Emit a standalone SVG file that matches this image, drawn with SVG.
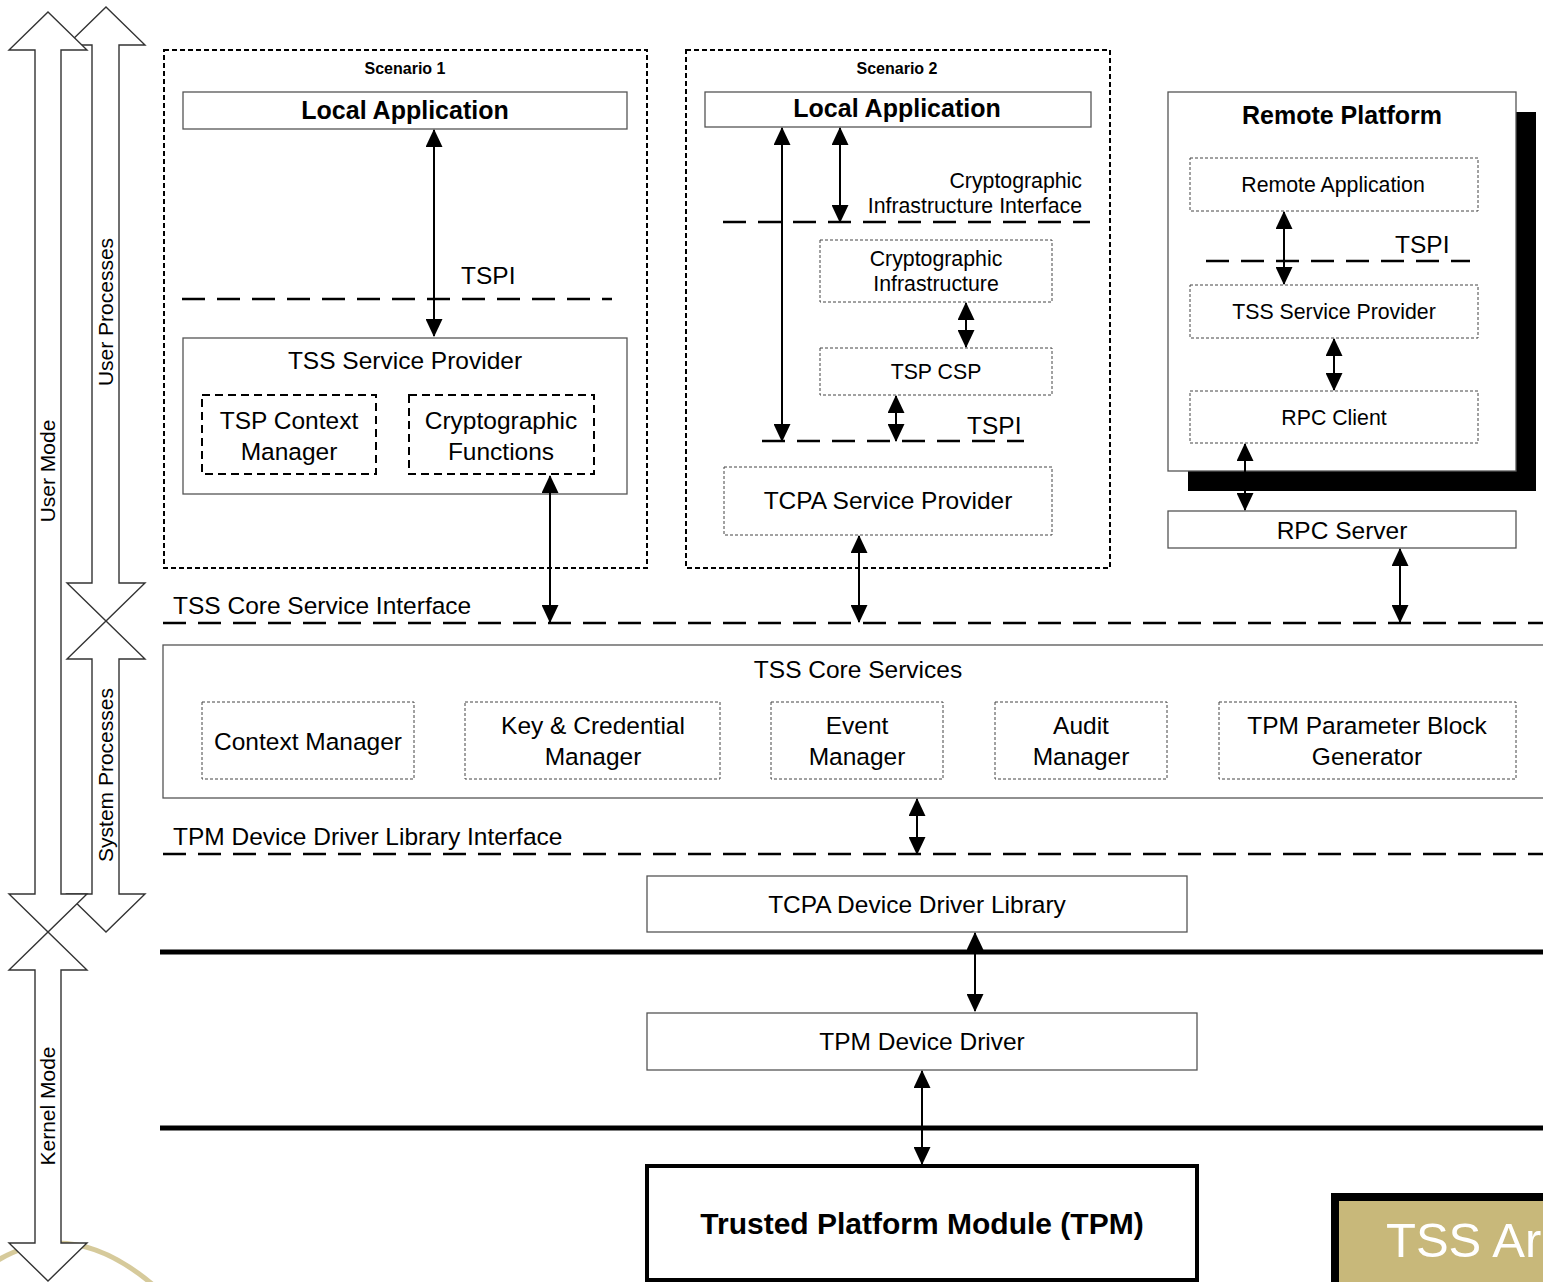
<svg xmlns="http://www.w3.org/2000/svg" width="1543" height="1282" viewBox="0 0 1543 1282">
<style>
text{font-family:"Liberation Sans",Arial,sans-serif;fill:#000}
.t24{font-size:24.5px}
.t21{font-size:21.3px}
.b25{font-size:25px;font-weight:bold}
.b16{font-size:16px;font-weight:bold}
.m{text-anchor:middle}
.solid{fill:#fff;stroke:#555;stroke-width:1.3}
.dot{fill:#fff;stroke:#444;stroke-width:1;stroke-dasharray:3 2}
.scen{fill:none;stroke:#000;stroke-width:2;stroke-dasharray:5 3}
.dash{fill:none;stroke:#000;stroke-width:2;stroke-dasharray:8 5}
.iface{stroke:#000;stroke-width:2.5;stroke-dasharray:23 12;fill:none}
.thick{stroke:#000;stroke-width:5}
.big{fill:#fff;stroke:#333;stroke-width:1.4}
.conn line{stroke:#000;stroke-width:2;marker-start:url(#ah);marker-end:url(#ah)}
.vt{font-size:21px}
</style>
<defs>
<marker id="ah" viewBox="0 0 18 17" refX="17" refY="8.5" markerWidth="18" markerHeight="17" markerUnits="userSpaceOnUse" orient="auto-start-reverse">
<path d="M0,0 L18,8.5 L0,17 z" fill="#000"/>
</marker>
</defs>
<rect width="1543" height="1282" fill="#fff"/>

<!-- decorative gold arc -->
<path d="M-5 1262 Q 70 1215 152 1284" fill="none" stroke="#C8B87A" stroke-width="5" opacity="0.75"/>

<!-- mode arrows -->
<g id="mode-arrows">
<polygon class="big" points="106,7 145,45 119,45 119,583 145,583 106,621 67,583 92,583 92,45 67,45"/>
<polygon class="big" points="106,621 145,659 119,659 119,894 145,894 106,932 67,894 92,894 92,659 67,659"/>
<polygon class="big" points="48,12 87,50 61,50 61,894 87,894 48,932 9,894 35,894 35,50 9,50"/>
<polygon class="big" points="48,932 87,970 61,970 61,1243 87,1243 48,1281 9,1243 35,1243 35,970 9,970"/>
<text class="vt m" transform="translate(55,471) rotate(-90)">User Mode</text>
<text class="vt m" transform="translate(113,312) rotate(-90)">User Processes</text>
<text class="vt m" transform="translate(113,775) rotate(-90)">System Processes</text>
<text class="vt m" transform="translate(55,1106) rotate(-90)">Kernel Mode</text>
</g>

<!-- Scenario 1 -->
<g id="scenario1">
<rect class="scen" x="164" y="50" width="483" height="518"/>
<text class="b16 m" x="405" y="74">Scenario 1</text>
</g>
<g id="s1-local-app">
<rect class="solid" x="183" y="92" width="444" height="37"/>
<text class="b25 m" x="405" y="119">Local Application</text>
</g>
<g id="s1-tspi">
<line class="iface" x1="182" y1="299" x2="612" y2="299"/>
<text class="t24" x="461" y="284">TSPI</text>
</g>
<g id="s1-tss-sp">
<rect class="solid" x="183" y="338" width="444" height="156"/>
<text class="t24 m" x="405" y="369">TSS Service Provider</text>
</g>
<g id="s1-tsp-context">
<rect class="dash" x="202" y="395" width="174" height="79"/>
<text class="t24 m" x="289" y="429">TSP Context</text>
<text class="t24 m" x="289" y="460">Manager</text>
</g>
<g id="s1-crypto-func">
<rect class="dash" x="409" y="395" width="185" height="79"/>
<text class="t24 m" x="501" y="429">Cryptographic</text>
<text class="t24 m" x="501" y="460">Functions</text>
</g>

<!-- Scenario 2 -->
<g id="scenario2">
<rect class="scen" x="686" y="50" width="424" height="518"/>
<text class="b16 m" x="897" y="74">Scenario 2</text>
</g>
<g id="s2-local-app">
<rect class="solid" x="705" y="92" width="386" height="35"/>
<text class="b25 m" x="897" y="117">Local Application</text>
</g>
<g id="s2-cii">
<line class="iface" x1="723" y1="222" x2="1090" y2="222"/>
<text class="t21" x="1082" y="188" text-anchor="end">Cryptographic</text>
<text class="t21" x="1082" y="212.6" text-anchor="end">Infrastructure Interface</text>
</g>
<g id="s2-crypto-infra">
<rect class="dot" x="820" y="240" width="232" height="62"/>
<text class="t21 m" x="936" y="265.6">Cryptographic</text>
<text class="t21 m" x="936" y="290.6">Infrastructure</text>
</g>
<g id="s2-tsp-csp">
<rect class="dot" x="820" y="348" width="232" height="47"/>
<text class="t21 m" x="936" y="378.6">TSP CSP</text>
</g>
<g id="s2-tspi">
<line class="iface" x1="762" y1="441" x2="1024" y2="441"/>
<text class="t24" x="967" y="434">TSPI</text>
</g>
<g id="s2-tcpa-sp">
<rect class="dot" x="724" y="467" width="328" height="68"/>
<text class="t24 m" x="888" y="509">TCPA Service Provider</text>
</g>

<!-- Remote platform -->
<g id="remote-platform">
<rect x="1188" y="112" width="348" height="379" fill="#000"/>
<rect class="solid" x="1168" y="92" width="348" height="379"/>
<text class="b25 m" x="1342" y="124">Remote Platform</text>
</g>
<g id="remote-app">
<rect class="dot" x="1190" y="158" width="288" height="53"/>
<text class="t21 m" x="1333" y="191.6">Remote Application</text>
</g>
<g id="remote-tspi">
<line class="iface" x1="1206" y1="261" x2="1470" y2="261"/>
<text class="t24" x="1395" y="252.6">TSPI</text>
</g>
<g id="remote-tss-sp">
<rect class="dot" x="1190" y="285" width="288" height="53"/>
<text class="t21 m" x="1334" y="318.6">TSS Service Provider</text>
</g>
<g id="rpc-client">
<rect class="dot" x="1190" y="391" width="288" height="52"/>
<text class="t21 m" x="1334" y="424.6">RPC Client</text>
</g>
<g id="rpc-server">
<rect class="solid" x="1168" y="511" width="348" height="37"/>
<text class="t24 m" x="1342" y="539">RPC Server</text>
</g>

<!-- Core -->
<g id="tss-core-service-interface">
<line class="iface" x1="163" y1="623" x2="1543" y2="623"/>
<text class="t24" x="173" y="614">TSS Core Service Interface</text>
</g>
<g id="tss-core-services">
<rect class="solid" x="163" y="645" width="1400" height="153"/>
<text class="t24 m" x="858" y="678">TSS Core Services</text>
</g>
<g id="context-manager">
<rect class="dot" x="202" y="702" width="212" height="77"/>
<text class="t24 m" x="308" y="750">Context Manager</text>
</g>
<g id="key-cred-manager">
<rect class="dot" x="465" y="702" width="255" height="77"/>
<text class="t24 m" x="593" y="734">Key &amp; Credential</text>
<text class="t24 m" x="593" y="765">Manager</text>
</g>
<g id="event-manager">
<rect class="dot" x="771" y="702" width="172" height="77"/>
<text class="t24 m" x="857" y="734">Event</text>
<text class="t24 m" x="857" y="765">Manager</text>
</g>
<g id="audit-manager">
<rect class="dot" x="995" y="702" width="172" height="77"/>
<text class="t24 m" x="1081" y="734">Audit</text>
<text class="t24 m" x="1081" y="765">Manager</text>
</g>
<g id="tpm-param-block">
<rect class="dot" x="1219" y="702" width="297" height="77"/>
<text class="t24 m" x="1367" y="734">TPM Parameter Block</text>
<text class="t24 m" x="1367" y="765">Generator</text>
</g>
<g id="tddl-interface">
<line class="iface" x1="163" y1="854" x2="1543" y2="854"/>
<text class="t24" x="173" y="845">TPM Device Driver Library Interface</text>
</g>
<g id="tcpa-ddl">
<rect class="solid" x="647" y="876" width="540" height="56"/>
<text class="t24 m" x="917" y="913">TCPA Device Driver Library</text>
</g>
<g id="kernel-boundaries">
<line class="thick" x1="160" y1="952" x2="1543" y2="952"/>
<line class="thick" x1="160" y1="1128" x2="1543" y2="1128"/>
</g>
<g id="tpm-device-driver">
<rect class="solid" x="647" y="1013" width="550" height="57"/>
<text class="t24 m" x="922" y="1050">TPM Device Driver</text>
</g>
<g id="tpm">
<rect x="647" y="1166" width="550" height="114" fill="#fff" stroke="#000" stroke-width="4"/>
<text class="m" x="922" y="1234" style="font-size:30px;font-weight:bold">Trusted Platform Module (TPM)</text>
</g>
<g id="title-box">
<rect x="1331" y="1193" width="230" height="110" fill="#000"/>
<rect x="1339" y="1201" width="222" height="100" fill="#C8B87A"/>
<text x="1386" y="1257" style="font-size:49px;fill:#fff">TSS Architecture</text>
</g>

<!-- connectors -->
<g id="connectors" class="conn">
<line x1="434" y1="130" x2="434" y2="336"/>
<line x1="550" y1="476" x2="550" y2="622"/>
<line x1="782" y1="128" x2="782" y2="441"/>
<line x1="840" y1="128" x2="840" y2="222"/>
<line x1="966" y1="303" x2="966" y2="347"/>
<line x1="896" y1="396" x2="896" y2="441"/>
<line x1="859" y1="536" x2="859" y2="622"/>
<line x1="1284" y1="212" x2="1284" y2="284"/>
<line x1="1334" y1="339" x2="1334" y2="390"/>
<line x1="1245" y1="444" x2="1245" y2="510"/>
<line x1="1400" y1="549" x2="1400" y2="622"/>
<line x1="917" y1="799" x2="917" y2="854"/>
<line x1="975" y1="933" x2="975" y2="1011"/>
<line x1="922" y1="1071" x2="922" y2="1164"/>
</g>
</svg>
